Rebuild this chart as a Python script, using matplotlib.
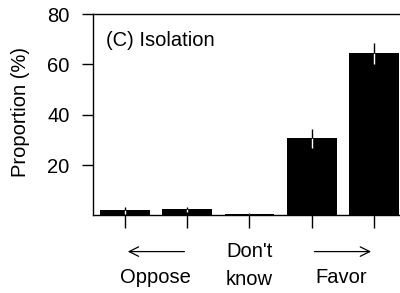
import numpy as np
import matplotlib
matplotlib.use("Agg")
import matplotlib.pyplot as plt

plt.rcParams['font.family'] = ['Liberation Sans', 'DejaVu Sans']

# data
categories = ["Strongly oppose", "Oppose", "Don't know", "Favor", "Strongly favor"]
proportion = np.array([2.0, 2.4, 0.4, 30.7, 64.4])
err = np.array([1.3, 1.0, 0.4, 3.8, 4.2])
yticks = [20, 40, 60, 80]

fs = 14.5
fig = plt.figure(figsize=(4.0, 2.93), dpi=100)
ax = fig.add_axes([0.2325, 0.265, 0.7675, 0.687])

x = np.arange(len(categories))
ax.bar(x, proportion, width=0.8, color="black", zorder=2)
# error bars: white inside the bar, black above it
ax.vlines(x, proportion - err, proportion, color="white", lw=1.0, zorder=3)
ax.vlines(x, proportion, proportion + err, color="black", lw=1.0, zorder=3)

ax.set_xlim(-0.514, 4.42)
ax.set_ylim(0, 80)
ax.set_yticks(yticks)
ax.set_xticks(x)
ax.set_xticklabels([])
ax.tick_params(axis="y", length=8, width=1.0, labelsize=fs, pad=9)
ax.tick_params(axis="x", length=9.5, width=1.0)
ax.spines["right"].set_visible(False)
for s in ["left", "top", "bottom"]:
    ax.spines[s].set_linewidth(1.0)

ax.text(-0.235, 0.513, "Proportion (%)", transform=ax.transAxes, rotation=90,
        ha="center", va="center", fontsize=fs)
ax.text(0.042, 0.87, "(C) Isolation", transform=ax.transAxes,
        fontsize=fs, va="center", ha="left")

tr = ax.get_xaxis_transform()
arrow = dict(arrowstyle="->", lw=0.9, color="black", mutation_scale=17)
ax.annotate("", xy=(0, -0.18), xytext=(1, -0.18), xycoords=tr,
            textcoords=tr, arrowprops=arrow, annotation_clip=False)
ax.annotate("", xy=(4, -0.18), xytext=(3, -0.18), xycoords=tr,
            textcoords=tr, arrowprops=arrow, annotation_clip=False)
ax.text(0.49, -0.31, "Oppose", transform=tr, ha="center", va="center", fontsize=fs)
ax.text(2.0, -0.18, "Don't", transform=tr, ha="center", va="center", fontsize=fs)
ax.text(2.0, -0.32, "know", transform=tr, ha="center", va="center", fontsize=fs)
ax.text(3.48, -0.31, "Favor", transform=tr, ha="center", va="center", fontsize=fs)

fig.savefig("out.png", dpi=100)
